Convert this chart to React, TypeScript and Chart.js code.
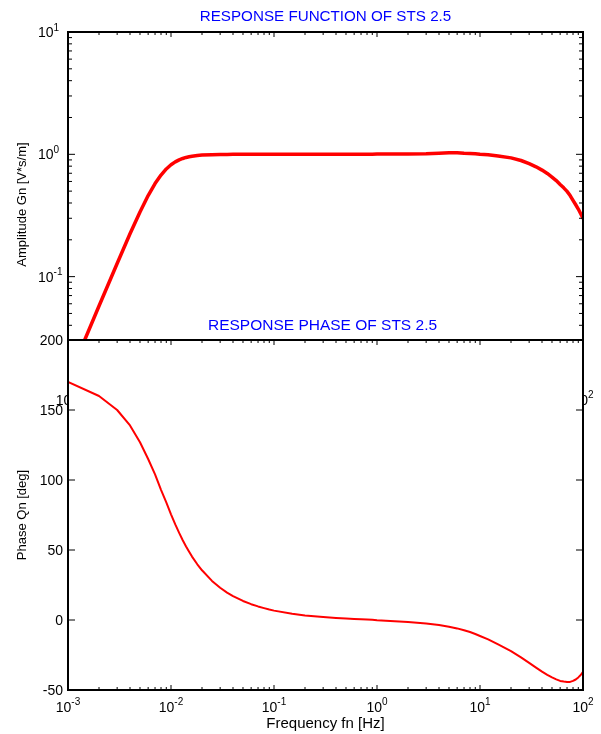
import React, { useEffect, useRef } from 'react';
import { Chart, registerables } from 'chart.js';

Chart.register(...registerables);

// ---------------- data ----------------
const frequencies = [
  0.001, 0.002, 0.003, 0.004, 0.005, 0.006, 0.007, 0.008, 0.009,
  0.01, 0.011, 0.012, 0.013, 0.014, 0.015, 0.016, 0.018,
  0.02, 0.025, 0.03, 0.035, 0.04, 0.05, 0.06, 0.07, 0.08, 0.09,
  0.1, 0.15, 0.2, 0.3, 0.4, 0.5, 0.6, 0.7, 0.8, 0.9,
  1, 2, 3, 4, 5, 6, 7, 8, 9,
  10, 12, 15, 20, 25, 30, 35, 40, 45, 50, 55, 60, 65, 70, 75, 80, 85, 90, 95, 100,
];

const amplitude = [
  0.0144, 0.0575, 0.128, 0.224, 0.338, 0.46, 0.576, 0.677, 0.759,
  0.821, 0.867, 0.901, 0.925, 0.943, 0.955, 0.965, 0.978,
  0.985, 0.994, 0.997, 0.998, 0.999, 1.0, 1.0, 1.0, 1.0, 1.0,
  1.0, 1.0, 1.0, 1.0, 1.0, 1.0, 1.0, 1.0, 1.0, 1.0,
  1.005, 1.005, 1.01, 1.02, 1.03, 1.03, 1.02, 1.015, 1.01,
  1.0, 0.99, 0.97, 0.935, 0.89, 0.838, 0.79, 0.743, 0.698, 0.652, 0.61, 0.567, 0.532, 0.498, 0.46, 0.42, 0.387, 0.357, 0.327, 0.3,
];

const phase = [
  170, 160, 150, 139, 127, 115, 104, 93, 84,
  75.5, 68.3, 62.2, 57, 52.5, 48.7, 45.3, 39.8,
  35.5, 27.9, 23, 19.6, 17.1, 13.6, 11.3, 9.7, 8.5, 7.5,
  6.7, 4.4, 3.2, 2.1, 1.5, 1.1, 0.8, 0.5, 0.3, 0.1,
  -0.2, -1.5, -2.5, -3.6, -4.8, -6, -7.3, -8.6, -10,
  -11.4, -13.8, -17.4, -22.2, -26.7, -30.6, -34, -36.9, -39.2, -41, -42.4, -43.5, -44, -44.3, -44.2, -43.5, -42.5, -41, -39.3, -37,
];

const freqDecades = [-3, -2, -1, 0, 1, 2];
const ampDecades = [-1, 0, 1];
const phaseTicks = [-50, 0, 50, 100, 150, 200];

const ampTitle = 'RESPONSE FUNCTION OF STS 2.5';
const phaseTitle = 'RESPONSE PHASE OF STS 2.5';
const ampLabel = 'Amplitude Gn [V*s/m]';
const phaseLabel = 'Phase Qn [deg]';
const freqLabel = 'Frequency fn [Hz]';

// ---------------- helpers ----------------
const FONT = '"Liberation Sans", Arial, Helvetica, sans-serif';
const TITLE_COLOR = '#0000ff';

function minorLog(minExp: number, maxExp: number): number[] {
  const out: number[] = [];
  for (let e = minExp; e <= maxExp; e++) {
    for (let m = 2; m <= 9; m++) out.push(m * Math.pow(10, e));
  }
  return out;
}

function drawPow(ctx: CanvasRenderingContext2D, x: number, y: number, exp: string, align: 'center' | 'left') {
  ctx.font = `14px ${FONT}`;
  const wb = ctx.measureText('10').width;
  ctx.font = `10px ${FONT}`;
  const we = ctx.measureText(exp).width;
  const start = align === 'center' ? x - (wb + we) / 2 : x;
  ctx.textAlign = 'left';
  ctx.textBaseline = 'alphabetic';
  ctx.font = `14px ${FONT}`;
  ctx.fillText('10', start, y);
  ctx.font = `10px ${FONT}`;
  ctx.fillText(exp, start + wb, y - 6.5);
}

function drawXTicks(ctx: CanvasRenderingContext2D, chart: any) {
  const a = chart.chartArea;
  const xs = chart.scales.x;
  ctx.beginPath();
  for (const e of freqDecades) {
    const px = xs.getPixelForValue(Math.pow(10, e));
    ctx.moveTo(px, a.top); ctx.lineTo(px, a.top + 5);
    ctx.moveTo(px, a.bottom); ctx.lineTo(px, a.bottom - 5);
  }
  for (const v of minorLog(-3, 1)) {
    const px = xs.getPixelForValue(v);
    ctx.moveTo(px, a.top); ctx.lineTo(px, a.top + 3);
    ctx.moveTo(px, a.bottom); ctx.lineTo(px, a.bottom - 3);
  }
  ctx.stroke();
}

function drawXLabels(ctx: CanvasRenderingContext2D, chart: any) {
  const a = chart.chartArea;
  const xs = chart.scales.x;
  ctx.fillStyle = '#000';
  for (const e of freqDecades) {
    const px = xs.getPixelForValue(Math.pow(10, e));
    drawPow(ctx, px, a.bottom + 21.5, String(e), 'center');
  }
}

const ampPlugin = {
  id: 'ampDecor',
  afterDraw(chart: any) {
    const { ctx, chartArea: a, scales } = chart;
    const ys = scales.y;
    ctx.save();
    ctx.strokeStyle = '#000';
    ctx.lineWidth = 1;
    drawXTicks(ctx, chart);
    ctx.beginPath();
    for (const e of ampDecades) {
      const py = ys.getPixelForValue(Math.pow(10, e));
      ctx.moveTo(a.left, py); ctx.lineTo(a.left + 7, py);
      ctx.moveTo(a.right, py); ctx.lineTo(a.right - 7, py);
    }
    for (const v of minorLog(-2, 0)) {
      if (v < ys.min || v > ys.max) continue;
      const py = ys.getPixelForValue(v);
      ctx.moveTo(a.left, py); ctx.lineTo(a.left + 4, py);
      ctx.moveTo(a.right, py); ctx.lineTo(a.right - 4, py);
    }
    ctx.stroke();
    ctx.lineWidth = 2;
    ctx.strokeRect(a.left, a.top, a.right - a.left, a.bottom - a.top);

    ctx.fillStyle = '#000';
    for (const e of ampDecades) {
      const py = ys.getPixelForValue(Math.pow(10, e));
      drawPow(ctx, 38, py + 5, String(e), 'left');
    }
    drawXLabels(ctx, chart);

    ctx.fillStyle = TITLE_COLOR;
    ctx.font = `15.2px ${FONT}`;
    ctx.textAlign = 'center';
    ctx.textBaseline = 'alphabetic';
    ctx.fillText(ampTitle, (a.left + a.right) / 2, a.top - 11);

    ctx.fillStyle = '#000';
    ctx.font = `13px ${FONT}`;
    ctx.save();
    ctx.translate(22, (a.top + a.bottom) / 2 - 3);
    ctx.rotate(-Math.PI / 2);
    ctx.textAlign = 'center';
    ctx.textBaseline = 'middle';
    ctx.fillText(ampLabel, 0, 0);
    ctx.restore();
    ctx.restore();
  },
};

const phasePlugin = {
  id: 'phaseDecor',
  beforeDraw(chart: any) {
    const { ctx, chartArea: a } = chart;
    ctx.save();
    ctx.fillStyle = '#ffffff';
    ctx.fillRect(a.left, a.top, a.right - a.left, a.bottom - a.top);
    ctx.restore();
  },
  afterDraw(chart: any) {
    const { ctx, chartArea: a, scales } = chart;
    const ys = scales.y;
    ctx.save();
    ctx.strokeStyle = '#000';
    ctx.lineWidth = 1;
    drawXTicks(ctx, chart);
    ctx.beginPath();
    for (const v of phaseTicks) {
      const py = ys.getPixelForValue(v);
      ctx.moveTo(a.left, py); ctx.lineTo(a.left + 7, py);
      ctx.moveTo(a.right, py); ctx.lineTo(a.right - 7, py);
    }
    ctx.stroke();
    ctx.lineWidth = 2;
    ctx.strokeRect(a.left, a.top, a.right - a.left, a.bottom - a.top);

    ctx.fillStyle = '#000';
    ctx.font = `14px ${FONT}`;
    ctx.textAlign = 'right';
    ctx.textBaseline = 'alphabetic';
    for (const v of phaseTicks) {
      const py = ys.getPixelForValue(v);
      ctx.fillText(String(v), 63, py + 5);
    }
    drawXLabels(ctx, chart);

    ctx.fillStyle = TITLE_COLOR;
    ctx.font = `15.5px ${FONT}`;
    ctx.textAlign = 'center';
    ctx.textBaseline = 'alphabetic';
    ctx.fillText(phaseTitle, (a.left + a.right) / 2 - 3, a.top - 10.5);

    ctx.fillStyle = '#000';
    ctx.font = `15px ${FONT}`;
    ctx.fillText(freqLabel, (a.left + a.right) / 2, a.bottom + 38);

    ctx.font = `13px ${FONT}`;
    ctx.save();
    ctx.translate(22, (a.top + a.bottom) / 2);
    ctx.rotate(-Math.PI / 2);
    ctx.textAlign = 'center';
    ctx.textBaseline = 'middle';
    ctx.fillText(phaseLabel, 0, 0);
    ctx.restore();
    ctx.restore();
  },
};

function makePoints(ys: number[]) {
  return frequencies.map((f, i) => ({ x: f, y: ys[i] }));
}

export default function App() {
  const topRef = useRef<HTMLCanvasElement>(null);
  const botRef = useRef<HTMLCanvasElement>(null);

  useEffect(() => {
    const top = new Chart(topRef.current!, {
      type: 'line',
      data: {
        datasets: [{
          data: makePoints(amplitude),
          borderColor: '#ff0000',
          borderWidth: 3.5,
          pointRadius: 0,
          tension: 0,
          borderJoinStyle: 'round',
          borderCapStyle: 'round',
        }],
      },
      options: {
        animation: false,
        responsive: false,
        devicePixelRatio: 1,
        layout: { padding: { left: 68, right: 18, top: 32, bottom: 47 } },
        plugins: { legend: { display: false }, title: { display: false }, tooltip: { enabled: false } },
        scales: {
          x: { type: 'logarithmic', min: 0.001, max: 100, display: false },
          y: { type: 'logarithmic', min: 0.0135, max: 10, display: false },
        },
      },
      plugins: [ampPlugin],
    } as any);

    const bot = new Chart(botRef.current!, {
      type: 'line',
      data: {
        datasets: [{
          data: makePoints(phase),
          borderColor: '#ff0000',
          borderWidth: 2,
          pointRadius: 0,
          tension: 0,
          borderJoinStyle: 'round',
        }],
      },
      options: {
        animation: false,
        responsive: false,
        devicePixelRatio: 1,
        layout: { padding: { left: 68, right: 18, top: 40, bottom: 44 } },
        plugins: { legend: { display: false }, title: { display: false }, tooltip: { enabled: false } },
        scales: {
          x: { type: 'logarithmic', min: 0.001, max: 100, display: false },
          y: { type: 'linear', min: -50, max: 200, display: false },
        },
      },
      plugins: [phasePlugin],
    } as any);

    return () => {
      top.destroy();
      bot.destroy();
    };
  }, []);

  return (
    <div style={{ position: 'absolute', left: 0, top: 0, width: 601, height: 734, background: '#ffffff', overflow: 'hidden' }}>
      <canvas ref={topRef} width={601} height={430} style={{ position: 'absolute', left: 0, top: 0, width: 601, height: 430 }} />
      <canvas ref={botRef} width={601} height={434} style={{ position: 'absolute', left: 0, top: 300, width: 601, height: 434 }} />
    </div>
  );
}
